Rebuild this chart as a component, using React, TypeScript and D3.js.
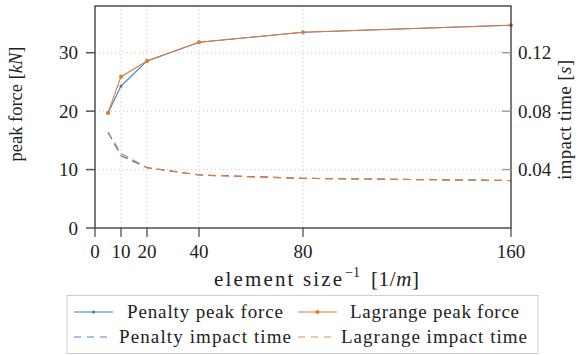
import React from "react";
import * as d3 from "d3";

const xValues = [5, 10, 20, 40, 80, 160];
const penaltyForce = [19.7, 24.3, 28.6, 31.8, 33.5, 34.7];
const lagrangeForce = [19.7, 25.9, 28.6, 31.8, 33.5, 34.7];
const penaltyTime = [0.0655, 0.0495, 0.0413, 0.0363, 0.034, 0.0325];
const lagrangeTime = [0.0655, 0.051, 0.0413, 0.0363, 0.034, 0.0325];
const xTicks = [0, 10, 20, 40, 80, 160];
const xGrid = [10, 20, 40, 80];
const yTicks = [0, 10, 20, 30];
const yGrid = [10, 20, 30];
const y2Ticks = [0.04, 0.08, 0.12];

const BLUE = "#2f7fd0";
const ORANGE = "#e8782f";
const BLUE_L = "#7fb1e6";
const ORANGE_L = "#f4b283";
const FONT = "'Liberation Serif', 'Times New Roman', serif";

export default function App() {
  const W = 582, H = 355;
  const L = 95, R = 511, T = 6, B = 228;
  const x = d3.scaleLinear().domain([0, 160]).range([L, R]);
  const y = d3.scaleLinear().domain([0, 38]).range([B, T]);
  const y2 = d3.scaleLinear().domain([0, 0.152]).range([B, T]);

  const lineF = (vals: number[]) =>
    d3.line<number>().x((_, i) => x(xValues[i])).y((d) => y(d))(vals) as string;
  const lineT = (vals: number[]) =>
    d3.line<number>().x((_, i) => x(xValues[i])).y((d) => y2(d))(vals) as string;

  const fs = 19;

  return (
    <svg width={W} height={H} style={{ position: "absolute", left: 0, top: 0 }} fontFamily={FONT}>
      <rect width={W} height={H} fill="white" />
      {/* grid */}
      {xGrid.map((t) => (
        <line key={"gx" + t} x1={x(t)} x2={x(t)} y1={T} y2={B} stroke="#c8c8c8" strokeWidth={1} strokeDasharray="1,3" />
      ))}
      {yGrid.map((t) => (
        <line key={"gy" + t} x1={L} x2={R} y1={y(t)} y2={y(t)} stroke="#c8c8c8" strokeWidth={1} strokeDasharray="1,3" />
      ))}
      {/* impact time */}
      <path d={lineT(penaltyTime)} fill="none" stroke={BLUE} strokeWidth={1.2} strokeDasharray="8,5" />
      <path d={lineT(lagrangeTime)} fill="none" stroke={ORANGE} strokeWidth={1.2} strokeDasharray="8,5" strokeDashoffset={1} />
      {/* peak force */}
      <path d={lineF(penaltyForce)} fill="none" stroke={BLUE} strokeWidth={1.1} />
      {penaltyForce.map((v, i) => (
        <circle key={"pp" + i} cx={x(xValues[i])} cy={y(v)} r={1.6} fill={BLUE} />
      ))}
      <path d={lineF(lagrangeForce)} fill="none" stroke={ORANGE} strokeWidth={1.1} />
      {lagrangeForce.map((v, i) => (
        <circle key={"lp" + i} cx={x(xValues[i])} cy={y(v)} r={2} fill={ORANGE} />
      ))}
      {/* frame */}
      <rect x={L} y={T} width={R - L} height={B - T} fill="none" stroke="#222" strokeWidth={1.2} />
      {/* left ticks */}
      {yTicks.map((t) => (
        <g key={"yt" + t}>
          <line x1={L - 9} x2={L} y1={y(t)} y2={y(t)} stroke="#555" strokeWidth={1.5} />
          <text x={78} y={y(t) + 6.5} textAnchor="end" fontSize={fs} fill="#222">{t}</text>
        </g>
      ))}
      {/* right ticks */}
      {y2Ticks.map((t) => (
        <g key={"y2t" + t}>
          <line x1={R - 9} x2={R} y1={y2(t)} y2={y2(t)} stroke="#999" strokeWidth={1.4} />
          <text x={518} y={y2(t) + 6.5} textAnchor="start" fontSize={fs} fill="#222">{t.toFixed(2)}</text>
        </g>
      ))}
      {/* bottom ticks */}
      {xTicks.map((t) => (
        <g key={"xt" + t}>
          <line x1={x(t)} x2={x(t)} y1={B} y2={B + 9} stroke="#444" strokeWidth={1.2} />
          <text x={x(t)} y={258} textAnchor="middle" fontSize={fs} fill="#222">{t}</text>
        </g>
      ))}
      {/* axis labels */}
      <text x={214} y={286} fontSize={21} fill="#222" textLength={128} lengthAdjust="spacing">element size</text>
      <text x={345} y={277} fontSize={14} fill="#222">−1</text>
      <text x={371} y={286} fontSize={21} fill="#222" textLength={48} lengthAdjust="spacing">
        [1/<tspan fontStyle="italic">m</tspan>]
      </text>
      <text transform={`translate(22,104) rotate(-90)`} textAnchor="middle" fontSize={18.5} fill="#222">
        peak force [<tspan fontStyle="italic">kN</tspan>]
      </text>
      <text transform={`translate(571,120) rotate(-90)`} textAnchor="middle" fontSize={fs} fill="#222" textLength={120} lengthAdjust="spacing">
        impact time [<tspan fontStyle="italic">s</tspan>]
      </text>
      {/* legend */}
      <rect x={67} y={295.5} width={471} height={58} fill="white" stroke="#cfcfcf" strokeWidth={1} />
      <line x1={74} x2={113} y1={312} y2={312} stroke={BLUE} strokeWidth={1.2} />
      <circle cx={93.5} cy={312} r={1.6} fill={BLUE} />
      <text x={127} y={318} fontSize={fs} fill="#222" textLength={156} lengthAdjust="spacing">Penalty peak force</text>
      <line x1={298} x2={337} y1={312} y2={312} stroke={ORANGE} strokeWidth={1.2} />
      <circle cx={317.5} cy={312} r={2} fill={ORANGE} />
      <text x={350} y={318} fontSize={fs} fill="#222" textLength={169} lengthAdjust="spacing">Lagrange peak force</text>
      <line x1={74} x2={111} y1={337} y2={337} stroke={BLUE_L} strokeWidth={1.5} strokeDasharray="7,6" />
      <text x={119} y={343} fontSize={fs} fill="#222" textLength={172} lengthAdjust="spacing">Penalty impact time</text>
      <line x1={298} x2={335} y1={337} y2={337} stroke={ORANGE_L} strokeWidth={1.5} strokeDasharray="7,6" />
      <text x={341} y={343} fontSize={fs} fill="#222" textLength={186} lengthAdjust="spacing">Lagrange impact time</text>
    </svg>
  );
}
